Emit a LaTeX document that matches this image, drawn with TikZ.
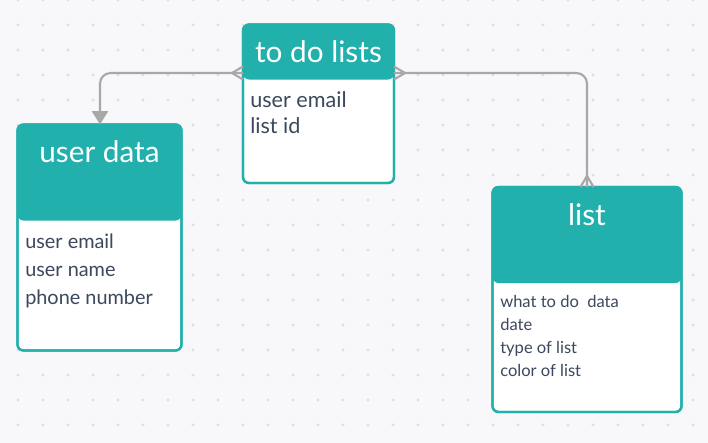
\documentclass[tikz,border=0pt]{standalone}
\usepackage{fontspec}
\setmainfont{Lato}
\usetikzlibrary{arrows.meta}
\definecolor{teal1}{RGB}{34,176,173}
\definecolor{bg}{RGB}{248,248,250}
\definecolor{dotc}{RGB}{222,222,228}
\definecolor{txt}{RGB}{60,72,92}
\definecolor{conn}{RGB}{168,168,168}
\tikzset{
  px/.style={x=0.75pt,y=-0.75pt},
  entity/.style n args={2}{rectangle, rounded corners=4.5pt, fill=white, draw=teal1, line width=1.7pt,
     minimum width=#1*0.75pt, minimum height=#2*0.75pt, inner sep=0pt, outer sep=0pt, anchor=north west},
  title/.style={anchor=base, text=white, font=\fontsize{22.3}{26}\selectfont, inner sep=0pt},
  field/.style={anchor=base west, text=txt, font=\fontsize{14.9}{18}\selectfont, inner sep=0pt},
  bigfield/.style={anchor=base west, text=txt, font=\fontsize{16.2}{19}\selectfont, inner sep=0pt},
  smallfield/.style={anchor=base west, text=txt, font=\fontsize{12.4}{15}\selectfont, inner sep=0pt},
  link/.style={draw=conn, line width=1.6pt, rounded corners=8pt},
  foot/.style={draw=conn, line width=1.6pt},
}
\begin{document}
\begin{tikzpicture}[px]
\useasboundingbox (0,0) rectangle (708,443);
\fill[bg] (0,0) rectangle (708,443);
\foreach \i in {0,...,28} {
  \foreach \j in {0,...,17} {
    \fill[dotc] (18+25*\i, 25*\j) circle (1.6);
  }
}
% entities
\node[entity={151}{158.5},
  path picture={\fill[teal1] (path picture bounding box.north west) rectangle ([yshift=-55*0.75pt]path picture bounding box.north east);}]
  (todo) at (243,24.5) {};
\node[entity={164}{226},
  path picture={\fill[teal1] (path picture bounding box.north west) rectangle ([yshift=-96*0.75pt]path picture bounding box.north east);}]
  (user) at (17.5,124.5) {};
\node[entity={189}{225},
  path picture={\fill[teal1] (path picture bounding box.north west) rectangle ([yshift=-96*0.75pt]path picture bounding box.north east);}]
  (list) at (492.5,187) {};
% redraw borders over header fill
\draw[teal1, line width=1.7pt, rounded corners=4.5pt] (todo.north west) rectangle (todo.south east);
\draw[teal1, line width=1.7pt, rounded corners=4.5pt] (user.north west) rectangle (user.south east);
\draw[teal1, line width=1.7pt, rounded corners=4.5pt] (list.north west) rectangle (list.south east);

% titles
\node[title] (todoT) at (318.5,62.5) {to do lists};
\node[title] (userT) at (99.5,162.5) {user data};
\node[title] (listT) at (587,225) {list};

% fields
\node[bigfield] (t1) at (250,107) {user email};
\node[bigfield] (t2) at (250,133.5) {list id};
\node[field] (u1) at (25,248) {user email};
\node[field] (u2) at (25,276.5) {user name};
\node[field] (u3) at (25,304.5) {phone number};
\node[smallfield] (l1) at (500,307.5) {what to do\ \ data};
\node[smallfield] (l2) at (500,330.3) {date};
\node[smallfield] (l3) at (500,353) {type of list};
\node[smallfield] (l4) at (500,376) {color of list};

% connectors
\coordinate (aL) at (todo.west |- 0,73);
\coordinate (aR) at (todo.east |- 0,73);
\coordinate (uTop) at (user.north -| 100,0);
\coordinate (lTop) at (list.north -| 587,0);
\draw[link, -{Triangle[length=10pt,width=12pt,fill=conn]}] (aL) -- (100,73) -- (uTop);
\draw[link] (aR) -- (587,73) -- (lTop);
% crow's feet
\draw[foot] (aL) ++(-11,0) -- ++(11,-6.5) (aL) ++(-11,0) -- ++(11,6.5);
\draw[foot] (aR) ++(11,0) -- ++(-11,-6.5) (aR) ++(11,0) -- ++(-11,6.5);
\draw[foot] (lTop) ++(0,-11) -- ++(-6.5,11) (lTop) ++(0,-11) -- ++(6.5,11);
\end{tikzpicture}
\end{document}
